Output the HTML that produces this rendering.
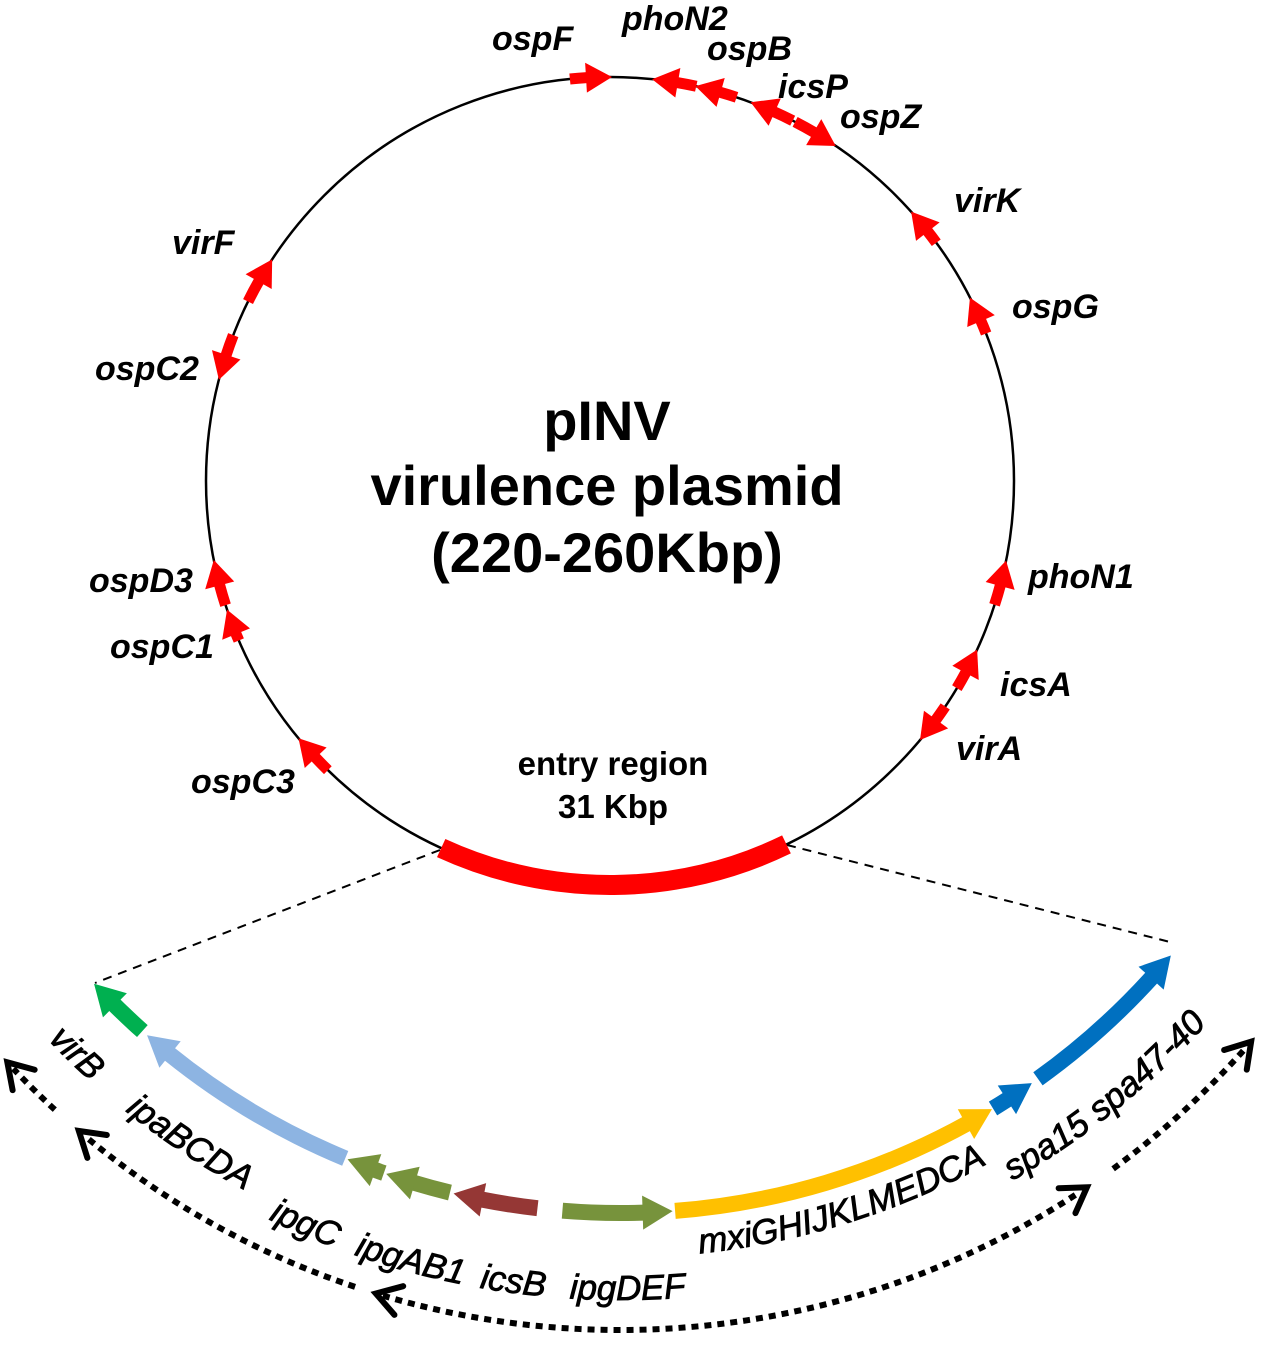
<!DOCTYPE html>
<html><head><meta charset="utf-8"><style>
html,body{margin:0;padding:0;background:#fff;}
svg{display:block;}
.lb{font-family:"Liberation Sans",sans-serif;font-weight:bold;font-style:italic;font-size:34px;fill:#000;}
.bl{font-family:"Liberation Sans",sans-serif;font-style:italic;font-size:35px;fill:#000;stroke:#000;stroke-width:0.8px;}
.ct{font-family:"Liberation Sans",sans-serif;font-weight:bold;font-size:56px;fill:#000;}
.er{font-family:"Liberation Sans",sans-serif;font-weight:bold;font-size:33px;fill:#000;}
</style></head><body>
<svg id="s" width="1268" height="1349" viewBox="0 0 1268 1349" xmlns="http://www.w3.org/2000/svg">
<defs>
<path id="pA" d="M -27.2 948.1 A 790 790 0 0 0 1267.2 948.1"/>
<path id="pB" d="M -39.5 956.7 A 805 805 0 0 0 1279.5 956.7"/>
<path id="pC" d="M -5.9 933.2 A 766 766 0 0 0 1245.9 933.2"/>
</defs>
<circle cx="610" cy="481" r="404" fill="none" stroke="#000" stroke-width="2.5"/>
<line x1="440" y1="850" x2="95" y2="983" stroke="#000" stroke-width="2" stroke-dasharray="9 7"/>
<line x1="787" y1="845" x2="1170" y2="942" stroke="#000" stroke-width="2" stroke-dasharray="9 7"/>
<g id="shapes"></g>

<text class="ct" x="607" y="440" text-anchor="middle">pINV</text>
<text class="ct" x="607" y="505" text-anchor="middle">virulence plasmid</text>
<text class="ct" x="607" y="572" text-anchor="middle">(220-260Kbp)</text>
<text class="er" x="613" y="775" text-anchor="middle">entry region</text>
<text class="er" x="613" y="818" text-anchor="middle">31 Kbp</text>

<text class="lb" x="492" y="50">ospF</text>
<text class="lb" x="622" y="30">phoN2</text>
<text class="lb" x="707" y="60">ospB</text>
<text class="lb" x="778" y="98">icsP</text>
<text class="lb" x="840" y="128">ospZ</text>
<text class="lb" x="954" y="212">virK</text>
<text class="lb" x="1012" y="318">ospG</text>
<text class="lb" x="1028" y="588">phoN1</text>
<text class="lb" x="1000" y="696">icsA</text>
<text class="lb" x="956" y="760">virA</text>
<text class="lb" x="172" y="254">virF</text>
<text class="lb" x="95" y="380">ospC2</text>
<text class="lb" x="89" y="592">ospD3</text>
<text class="lb" x="110" y="658">ospC1</text>
<text class="lb" x="191" y="793">ospC3</text>

<text class="bl" text-anchor="middle"><textPath href="#pA" startOffset="9.8%">virB</textPath></text>
<text class="bl" text-anchor="middle"><textPath href="#pA" startOffset="19.5%">ipaBCDA</textPath></text>
<text class="bl" text-anchor="middle"><textPath href="#pB" startOffset="28.8%">ipgC</textPath></text>
<text class="bl" text-anchor="middle"><textPath href="#pB" startOffset="36.1%">ipgAB1</textPath></text>
<text class="bl" text-anchor="middle"><textPath href="#pB" startOffset="43%">icsB</textPath></text>
<text class="bl" text-anchor="middle"><textPath href="#pB" startOffset="50.5%">ipgDEF</textPath></text>
<text class="bl" text-anchor="middle"><textPath href="#pC" startOffset="65.8%">mxiGHIJKLMEDCA</textPath></text>
<text class="bl" text-anchor="middle"><textPath href="#pA" startOffset="80.2%">spa15</textPath></text>
<text class="bl" text-anchor="middle"><textPath href="#pA" startOffset="88.8%">spa47-40</textPath></text>
</svg>
<script>
(function(){
var g=document.getElementById('shapes'),NS='http://www.w3.org/2000/svg',D=Math.PI/180;
function el(t,a){var e=document.createElementNS(NS,t);for(var k in a)e.setAttribute(k,a[k]);g.appendChild(e);return e;}
function pt(C,r,a){return [C.cx+r*Math.cos(a),C.cy+r*Math.sin(a)];}
function arcD(C,r,a0,a1){var p=pt(C,r,a0),q=pt(C,r,a1);var s=a1>a0?1:0;var L=Math.abs(a1-a0)>Math.PI?1:0;
return 'M'+p[0].toFixed(2)+' '+p[1].toFixed(2)+' A'+r+' '+r+' 0 '+L+' '+s+' '+q[0].toFixed(2)+' '+q[1].toFixed(2);}
function arrow(C,a0,a1,bw,hw,hl,col){var s=a1>a0?1:-1;var dh=hl/C.r;var ab=a1-s*dh;
el('path',{d:arcD(C,C.r,a0,ab+s*0.002),fill:'none',stroke:col,'stroke-width':bw});
var t=pt(C,C.r,a1),b1=pt(C,C.r+hw/2,ab),b2=pt(C,C.r-hw/2,ab);
el('polygon',{points:t.join(',')+' '+b1.join(',')+' '+b2.join(','),fill:col});}
function ang(C,x,y){return Math.atan2(y-C.cy,x-C.cx);}
var C1={cx:610,cy:481,r:404},C2={cx:620,cy:495,r:718},C3={cx:620,cy:495,r:835};
el('path',{d:arcD(C1,404,114.7*D,64.1*D),fill:'none',stroke:'#ff0000','stroke-width':20});
var R=[[570,80,612,78],[695,92,652,80],[735,102,695,88],[792,122,750,104],[793,126,833,150],
[940,240,913,210],[995,330,975,295],[995,605,1003,560],[960,690,978,650],[943,705,920,740],
[245,300,270,258],[233,335,220,380],[226,605,214,560],[240,640,232,608],[328,770,300,737]];
R.forEach(function(a){var a0=ang(C1,a[0],a[1]),a1=ang(C1,a[2],a[3]);arrow(C1,a0,a1,11,30,26,'#ff0000');});
var G=[[131.7,137.1,'#00b050'],[112.5,131.2,'#8db4e2'],[109.2,112.3,'#77933c'],[103.7,109,'#77933c'],
[96.6,103.4,'#953735'],[94.6,85.8,'#77933c'],[85.6,58.8,'#ffc000'],[58.7,55,'#0070c0'],[54.4,39.9,'#0070c0']];
G.forEach(function(a){arrow(C2,a[0]*D,a[1]*D,16,34,30,a[2]);});
function dots(a0,a1,heads){var r=C3.r;
el('path',{d:arcD(C3,r,a0*D,a1*D),fill:'none',stroke:'#000','stroke-width':6,'stroke-dasharray':'7 6'});
heads.forEach(function(h){var a=h[0]*D,s=h[1];var t=pt(C3,r,a);
var tx=-Math.sin(a)*s,ty=Math.cos(a)*s;
var nx=Math.cos(a),ny=Math.sin(a);var L=24,W=15;
var p1=[t[0]-tx*L+nx*W,t[1]-ty*L+ny*W],p2=[t[0]-tx*L-nx*W,t[1]-ty*L-ny*W];
el('polyline',{points:p1.join(',')+' '+t.join(',')+' '+p2.join(','),fill:'none',stroke:'#000','stroke-width':6,'stroke-linejoin':'miter','stroke-linecap':'round'});});}
dots(132.6,136.6,[[137.2,1]]);
dots(108.5,129.8,[[130.4,1]]);
dots(106.5,56.6,[[107,1],[56,-1]]);
dots(53.8,41.5,[[40.9,-1]]);
})();
</script>
</body></html>
